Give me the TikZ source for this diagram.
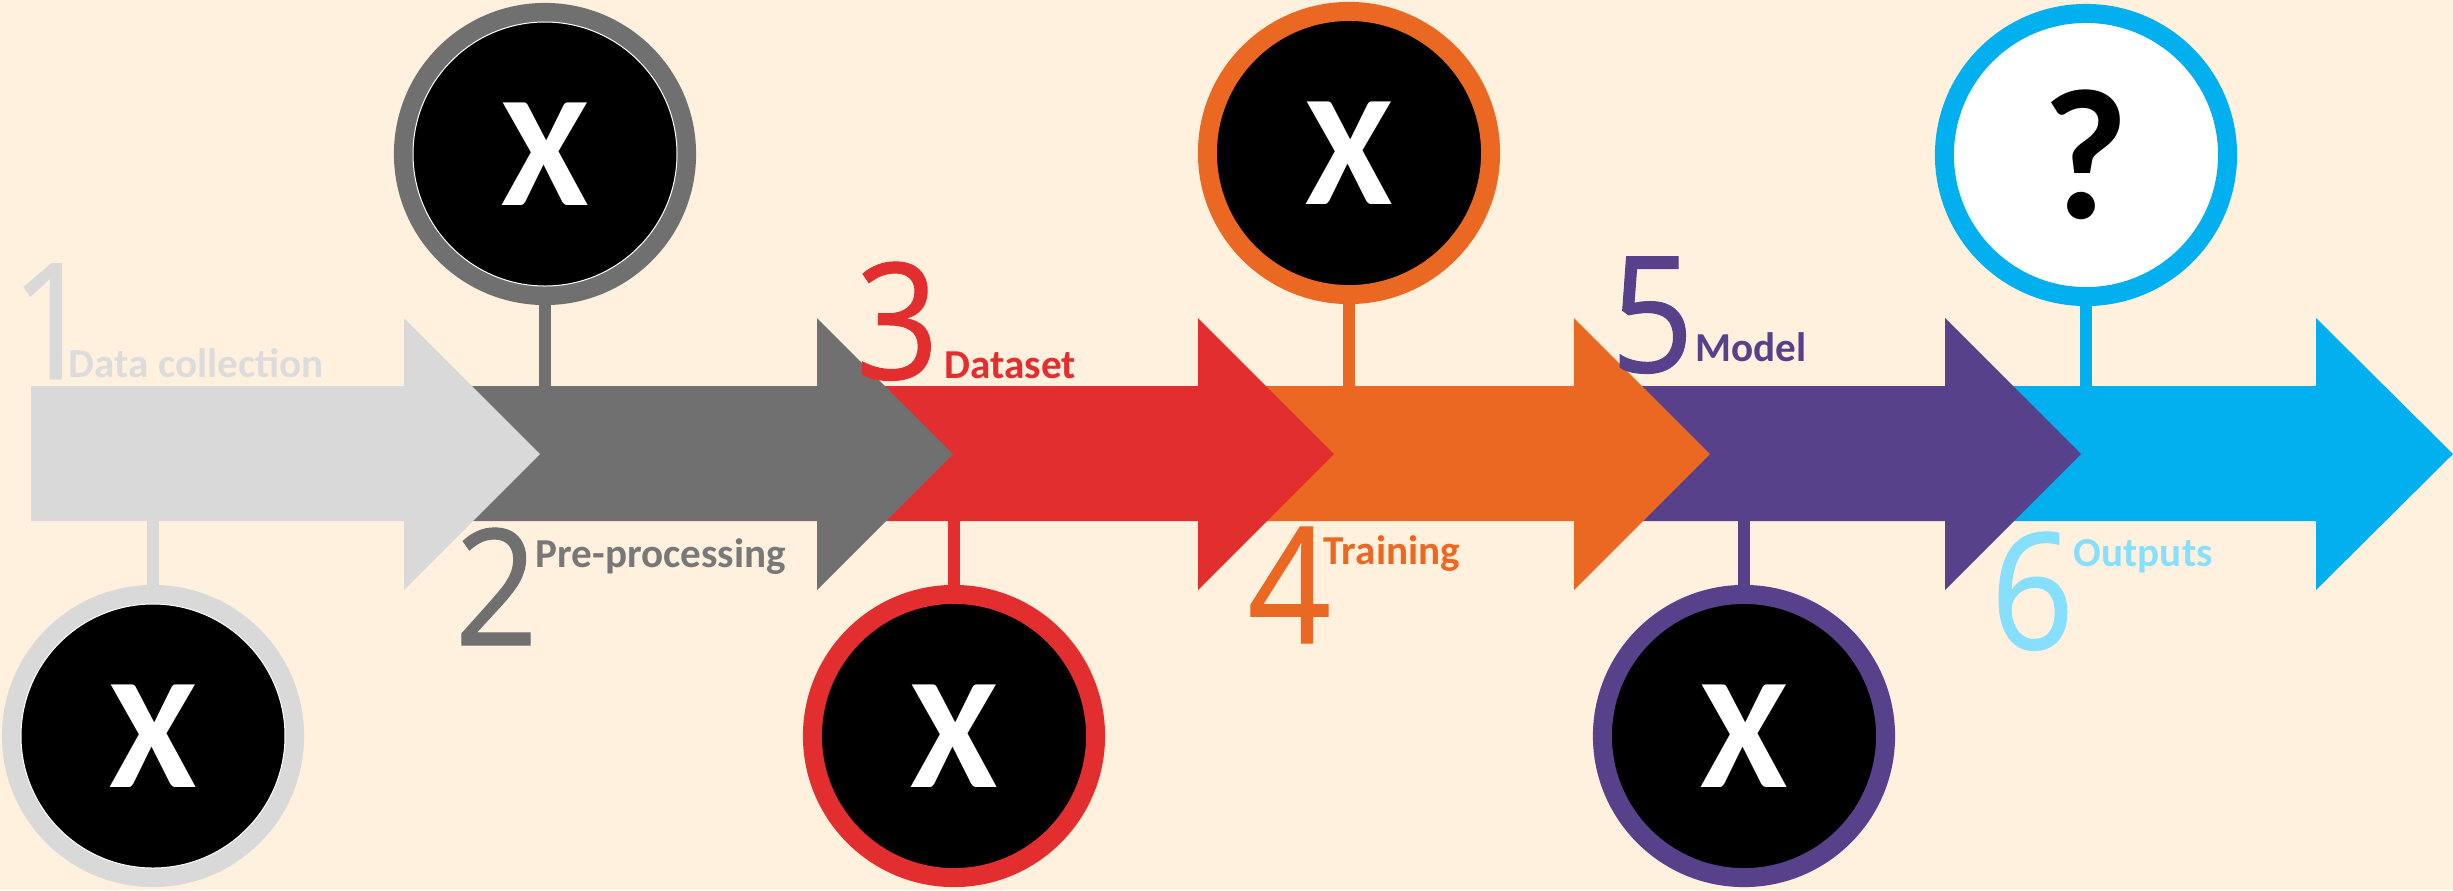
\documentclass[tikz,border=0pt]{standalone}
\usepackage{fontspec}
\setmainfont{Carlito}
\newfontfamily\digitfont[FakeStretch=0.9,FakeBold=0.6]{Open Sans}
\definecolor{bgc}{HTML}{FFF1DE}
\definecolor{cA}{HTML}{D9D9D9}
\definecolor{cB}{HTML}{707070}
\definecolor{cC}{HTML}{E22E2E}
\definecolor{cD}{HTML}{EB6823}
\definecolor{cE}{HTML}{56418A}
\definecolor{cF}{HTML}{02AFEF}
\definecolor{tA}{HTML}{DCDCDC}
\definecolor{tB}{HTML}{787878}
\definecolor{tF}{HTML}{86DFFF}
\begin{document}
\begin{tikzpicture}[x=0.01cm,y=-0.01cm,
  ring/.style={circle,inner sep=0pt,minimum size=2.83cm,line width=1.9mm,draw=#1,fill=black,
    text=white,font=\fontsize{45pt}{45pt}\selectfont\bfseries},
  stem/.style={draw=#1,line width=1.15mm},
  digit/.style={anchor=base west,inner sep=0pt,text=#1,font=\digitfont\fontsize{46pt}{46pt}\selectfont},
  lbl/.style={anchor=base west,inner sep=0pt,text=#1,font=\fontsize{11.7pt}{12pt}\selectfont\bfseries}]
\useasboundingbox (0,0) rectangle (2453,890);
\fill[bgc] (0,0) rectangle (2453,890);
% arrows, last one first
\fill[cF] (1947,386) -- (2316,386) -- (2316,318) -- (2453,454) -- (2316,590) -- (2316,521) -- (1947,521) -- cycle;
\fill[cE] (1576,386) -- (1945,386) -- (1945,318) -- (2081,454) -- (1945,590) -- (1945,521) -- (1576,521) -- cycle;
\fill[cD] (1200,386) -- (1574,386) -- (1574,318) -- (1710,454) -- (1574,590) -- (1574,521) -- (1200,521) -- cycle;
\fill[cC] (820,386) -- (1198,386) -- (1198,318) -- (1334,454) -- (1198,590) -- (1198,521) -- (820,521) -- cycle;
\fill[cB] (420,386) -- (817,386) -- (817,318) -- (953,454) -- (817,590) -- (817,521) -- (420,521) -- cycle;
\fill[cA] (31,386) -- (404,386) -- (404,318) -- (540,454) -- (404,590) -- (404,521) -- (31,521) -- cycle;
% stem ends on the shafts
\coordinate (s1) at (153,521);
\coordinate (s2) at (545,386);
\coordinate (s3) at (954,521);
\coordinate (s4) at (1349,386);
\coordinate (s5) at (1744,521);
\coordinate (s6) at (2086,386);
% circles
\node[ring=cA] (c1) at (153,736) {X};
\node[ring=cB] (c2) at (545,154) {X};
\node[ring=cC] (c3) at (954,736) {X};
\node[ring=cD] (c4) at (1349,153) {X};
\node[ring=cE] (c5) at (1744,736) {X};
\node[ring=cF,fill=white,text=black,font=\fontsize{53pt}{53pt}\selectfont\bfseries] (c6) at (2086,155) {?};
\draw[white,line width=0.1mm] (c1.center) circle[radius=132];
\draw[white,line width=0.1mm] (c2.center) circle[radius=132];
% stems
\draw[stem=cA] (c1.north) -- (s1);
\draw[stem=cB] (c2.south) -- (s2);
\draw[stem=cC] (c3.north) -- (s3);
\draw[stem=cD] (c4.south) -- (s4);
\draw[stem=cE] (c5.north) -- (s5);
\draw[stem=cF] (c6.south) -- (s6);
% numbers and labels
\node[digit=cA] (n1) at (10,379) {1};
\node[lbl=tA] (l1) at (68,377) {Data collection};
\node[digit=cB] (n2) at (454,645) {2};
\node[lbl=tB] (l2) at (535,567) {Pre-processing};
\node[digit=cC] (n3) at (855,379) {3};
\node[lbl=cC] (l3) at (944,378) {Dataset};
\node[digit=cD] (n4) at (1247,643) {4};
\node[lbl=cD] (l4) at (1323,564) {Training};
\node[digit=cE] (n5) at (1610,372) {5};
\node[lbl=cE] (l5) at (1695,361) {Model};
\node[digit=tF] (n6) at (1990,649) {6};
\node[lbl=tF] (l6) at (2073,566) {Outputs};
\end{tikzpicture}
\end{document}
